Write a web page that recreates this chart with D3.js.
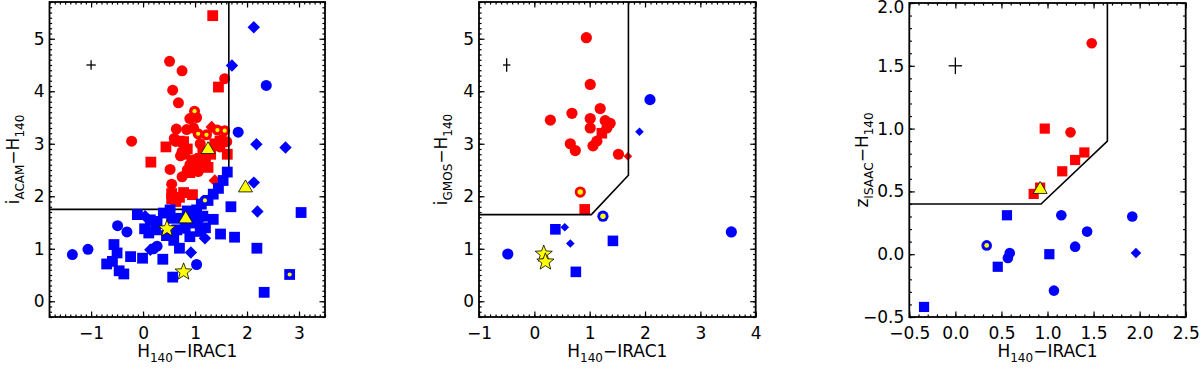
<!DOCTYPE html>
<html>
<head>
<meta charset="utf-8">
<title>Colour selection</title>
<style type="text/css">
body { margin:0; background:#fff; }
svg text { font-family: "DejaVu Sans", "Liberation Sans", Arial, sans-serif; fill:#000; }
.frame { fill:none; stroke:#000; stroke-width:1.8px; }
.tick line { stroke:#000; stroke-width:1.2px; }
.cut { fill:none; stroke:#000; stroke-width:1.6px; }
.err { stroke:#000; stroke-width:1.3px; }
</style>
</head>
<body>
<div id="chart"></div>
<script src="https://cdn.jsdelivr.net/npm/d3@7"></script>
<script>

// shape codes: o circle, o* circle with yellow dot, s square, s* square with dot, d diamond, ^ triangle, * star

// ---- panel 1: iACAM - H140
var acamRed = [
	[0.51,4.57,"o"],[0.75,4.39,"o"],[0.57,4.02,"o"],[0.68,3.78,"o"],[1.57,4.24,"o"],[-0.22,3.05,"o"],
	[0.90,3.48,"o"],[1.03,3.50,"o"],[0.97,3.30,"o"],[0.64,3.28,"o"],[0.84,3.27,"o"],[0.62,3.05,"o"],
	[0.75,2.85,"o"],[0.72,2.77,"o"],[1.51,3.07,"o"],[1.61,3.04,"o"],[1.48,2.94,"o"],[1.10,3.00,"o"],
	[0.90,2.60,"o"],[1.00,2.70,"o"],[0.52,2.51,"o"],[0.55,2.23,"o"],[0.75,2.37,"o"],[1.06,2.47,"o"],
	[0.85,2.50,"o"],[1.20,2.75,"o"],[1.35,2.95,"o"],[0.60,3.10,"o"],
	[1.34,5.44,"s"],[1.45,4.08,"s"],[0.15,2.65,"s"],[0.44,2.94,"s"],[0.78,3.04,"s"],[1.62,2.80,"s"],
	[0.70,3.05,"s"],[0.80,2.80,"s"],[0.95,2.68,"s"],[1.10,2.72,"s"],[1.20,2.63,"s"],[1.30,2.80,"s"],
	[1.38,3.00,"s"],[1.25,2.55,"s"],[0.90,2.45,"s"],[1.00,2.55,"s"],[0.55,1.95,"s"],[0.55,2.05,"s"],
	[0.70,1.98,"s"],[0.78,2.07,"s"],[0.63,1.90,"s"],[0.95,2.03,"s"],[1.15,2.85,"s"],[1.48,3.05,"s"],
	[0.85,2.90,"s"],
	[1.38,2.30,"d"],[1.32,3.32,"d"],
	[0.99,3.62,"o*"],[1.06,3.19,"o*"],[1.22,3.17,"o*"],[1.43,3.26,"o*"],[1.57,3.25,"o*"]
];
var acamBlue = [
	[3.04,1.69,"s"],[2.19,1.01,"s"],[2.33,0.17,"s"],[1.76,1.22,"s"],[1.49,1.28,"s"],[1.35,1.56,"s"],
	[1.69,1.80,"s"],[1.62,2.46,"s"],[1.54,2.30,"s"],[1.45,2.15,"s"],[1.35,2.04,"s"],[1.25,1.92,"s"],
	[1.03,1.74,"s"],[1.00,1.49,"s"],[1.10,1.33,"s"],[0.90,1.23,"s"],[0.70,1.01,"s"],[0.59,1.16,"s"],
	[0.57,0.46,"s"],[0.38,0.80,"s"],[-0.01,0.82,"s"],[-0.24,0.85,"s"],[-0.37,0.52,"s"],[-0.46,0.58,"s"],
	[-0.70,0.71,"s"],[-0.56,1.08,"s"],[-0.50,0.92,"s"],[-0.59,0.76,"s"],[-0.11,1.65,"s"],[0.03,1.38,"s"],
	[0.11,1.30,"s"],[0.24,1.36,"s"],[0.27,1.52,"s"],[0.14,1.55,"s"],[0.39,1.68,"s"],[0.52,1.74,"s"],
	[0.55,1.58,"s"],[0.65,1.36,"s"],[0.81,1.39,"s"],[0.97,1.65,"s"],[0.45,1.25,"s"],[1.20,1.40,"s"],
	[1.15,1.62,"s"],[0.85,1.72,"s"],[0.75,1.58,"s"],[1.12,1.85,"s"],
	[2.37,4.11,"o"],[1.83,3.22,"o"],[-1.36,0.89,"o"],[-1.06,0.99,"o"],[-0.49,1.44,"o"],[-0.31,1.32,"o"],
	[0.27,1.05,"o"],[0.20,1.00,"o"],[1.03,0.70,"o"],
	[2.13,5.22,"d"],[1.71,4.49,"d"],[2.18,2.99,"d"],[2.74,2.93,"d"],[2.13,2.26,"d"],[2.20,1.71,"d"],
	[0.92,0.93,"d"],[1.19,1.20,"d"],[0.04,1.62,"d"],[1.09,1.56,"d"],[0.14,0.98,"d"],
	[1.19,1.92,"o*"],[2.82,0.51,"s*"]
];
var acamYellow = [[1.25,2.90,"^"],[1.97,2.17,"^"],[0.82,1.58,"^"],[0.46,1.38,"*"],[0.78,0.56,"*"]];
var acamCut = [[-1.8,1.75],[1.05,1.75],[1.65,2.44],[1.65,5.7]];
var acamErr = [-1, 4.5, 0.09, 0.09];

// ---- panel 2: iGMOS - H140
var gmosRed = [
	[0.94,5.02,"o"],[1.01,4.13,"o"],[1.19,3.67,"o"],[0.29,3.45,"o"],[0.68,3.58,"o"],[1.01,3.48,"o"],
	[1.01,3.30,"o"],[1.28,3.44,"o"],[1.37,3.39,"o"],[1.31,3.30,"o"],[1.13,3.05,"o"],[1.06,2.96,"o"],
	[0.65,3.00,"o"],[0.74,2.87,"o"],[1.52,2.80,"o"],
	[1.22,3.20,"s"],[0.91,1.75,"s"],
	[1.69,2.76,"d"],
	[0.83,2.08,"o*"]
];
var gmosBlue = [
	[-0.48,0.90,"o"],[2.09,3.84,"o"],[3.56,1.32,"o"],
	[0.38,1.37,"s"],[1.42,1.15,"s"],[0.75,0.56,"s"],
	[0.55,1.41,"d"],[0.65,1.10,"d"],[1.90,3.23,"d"],
	[1.24,1.62,"o*"]
];
var gmosYellow = [[0.17,0.90,"*"],[0.20,0.75,"*"]];
var gmosCut = [[-1,1.65],[1.03,1.65],[1.70,2.40],[1.70,5.7]];
var gmosErr = [-0.5, 4.5, 0.067, 0.127];

// ---- panel 3: zISAAC - H140
var isaacRed = [
	[1.48,1.68,"o"],[1.25,0.97,"o"],
	[0.97,1.00,"s"],[1.40,0.81,"s"],[1.30,0.75,"s"],[1.16,0.66,"s"],[0.85,0.48,"s"],[0.92,0.53,"s"]
];
var isaacBlue = [
	[1.15,0.31,"o"],[1.92,0.30,"o"],[1.43,0.18,"o"],[1.30,0.06,"o"],[0.59,0.01,"o"],[0.57,-0.03,"o"],
	[1.07,-0.29,"o"],
	[0.56,0.31,"s"],[1.02,0.00,"s"],[0.46,-0.10,"s"],[-0.34,-0.42,"s"],
	[1.96,0.01,"d"],
	[0.34,0.07,"o*"]
];
var isaacYellow = [[0.92,0.52,"^"]];
var isaacCut = [[-0.5,0.40],[0.93,0.40],[1.65,0.90],[1.65,2.0]];
var isaacErr = [0, 1.5, 0.073, 0.066];

var xTicks12 = [-1,0,1,2,3], xTicks2 = [-1,0,1,2,3,4], yTicks12 = [0,1,2,3,4,5];
var xTicks3 = [-0.5,0,0.5,1,1.5,2,2.5], yTicks3 = [-0.5,0,0.5,1,1.5,2];

var panels = [
	{left:49.5, right:325, top:2, bottom:317, xDom:[-1.8,3.5], yDom:[-0.3,5.7], xTicks:xTicks12, yTicks:yTicks12,
	 fmt:d3.format("d"), ylab:["i","ACAM"], ylabX:19, red:acamRed, blue:acamBlue, yellow:acamYellow, cut:acamCut, err:acamErr,
	 r:{o:5.5, s:5.4, d:6.2, dot:2.1, star:9, tri:7}},
	{left:479, right:755.7, top:2, bottom:317, xDom:[-1,4], yDom:[-0.3,5.7], xTicks:xTicks2, yTicks:yTicks12,
	 fmt:d3.format("d"), ylab:["i","GMOS"], ylabX:447, red:gmosRed, blue:gmosBlue, yellow:gmosYellow, cut:gmosCut, err:gmosErr,
	 r:{o:5.6, s:5.3, d:4.3, dot:2.7, star:9, tri:7}},
	{left:909.3, right:1185.7, top:3, bottom:317, xDom:[-0.5,2.5], yDom:[-0.5,2.0], xTicks:xTicks3, yTicks:yTicks3,
	 fmt:d3.format(".1f"), ylab:["z","ISAAC"], ylabX:868, red:isaacRed, blue:isaacBlue, yellow:isaacYellow, cut:isaacCut, err:isaacErr,
	 r:{o:5.3, s:5.1, d:5.3, dot:2.4, star:9, tri:7}}
];

var svg = d3.select("#chart").append("svg")
	.attr("width",1200)
	.attr("height",374);

function markerPath(kind, r){
	var p = d3.path();
	if(kind == "o"){
		p.moveTo(r.o,0); p.arc(0,0,r.o,0,2*Math.PI);
	} else if(kind == "s"){
		p.rect(-r.s,-r.s,2*r.s,2*r.s);
	} else if(kind == "d"){
		p.moveTo(0,-r.d); p.lineTo(r.d,0); p.lineTo(0,r.d); p.lineTo(-r.d,0); p.closePath();
	} else if(kind == "^"){
		p.moveTo(0,-r.tri*1.05); p.lineTo(r.tri,r.tri*0.65); p.lineTo(-r.tri,r.tri*0.65); p.closePath();
	} else if(kind == "*"){
		for(var i=0;i<10;i++){
			var a = -Math.PI/2 + i*Math.PI/5;
			var rr = (i%2==0) ? r.star : r.star*0.42;
			if(i==0) p.moveTo(rr*Math.cos(a), rr*Math.sin(a));
			else p.lineTo(rr*Math.cos(a), rr*Math.sin(a));
		}
		p.closePath();
	}
	return p.toString();
}

function minorValues(dom, step){
	return d3.range(Math.ceil(dom[0]/step-1e-6), Math.floor(dom[1]/step+1e-6)+1).map(function(i){ return +(i*step).toFixed(3); });
}

function styleAxis(g){
	g.attr("font-family",null).attr("font-size",null);
	g.select(".domain").remove();
	g.selectAll("text").style("font-size","17px");
}

panels.forEach(function(p){
	var g = svg.append("g");
	var x = d3.scaleLinear().domain(p.xDom).range([p.left,p.right]);
	var y = d3.scaleLinear().domain(p.yDom).range([p.bottom,p.top]);

	// minor ticks on all four sides
	var xm = minorValues(p.xDom,0.1), ym = minorValues(p.yDom,0.1);
	g.append("g").attr("transform","translate(0,"+p.bottom+")")
		.call(d3.axisBottom(x).tickValues(xm).tickSize(-2.6).tickFormat("")).call(styleAxis);
	g.append("g").attr("transform","translate(0,"+p.top+")")
		.call(d3.axisTop(x).tickValues(xm).tickSize(-2.6).tickFormat("")).call(styleAxis);
	g.append("g").attr("transform","translate("+p.left+",0)")
		.call(d3.axisLeft(y).tickValues(ym).tickSize(-2.6).tickFormat("")).call(styleAxis);
	g.append("g").attr("transform","translate("+p.right+",0)")
		.call(d3.axisRight(y).tickValues(ym).tickSize(-2.6).tickFormat("")).call(styleAxis);

	// major ticks + labels
	g.append("g").attr("transform","translate(0,"+p.bottom+")")
		.call(d3.axisBottom(x).tickValues(p.xTicks).tickSize(-5.5).tickPadding(10).tickFormat(p.fmt)).call(styleAxis);
	g.append("g").attr("transform","translate(0,"+p.top+")")
		.call(d3.axisTop(x).tickValues(p.xTicks).tickSize(-5.5).tickFormat("")).call(styleAxis);
	var yax = g.append("g").attr("transform","translate("+p.left+",0)")
		.call(d3.axisLeft(y).tickValues(p.yTicks).tickSize(-5.5).tickPadding(5).tickFormat(p.fmt)).call(styleAxis);
	// keep a label that sits on the top edge inside the picture
	yax.selectAll(".tick text").attr("y",function(d){ return y(d) < 7 ? 7 - y(d) : 0; });
	g.append("g").attr("transform","translate("+p.right+",0)")
		.call(d3.axisRight(y).tickValues(p.yTicks).tickSize(-5.5).tickFormat("")).call(styleAxis);

	g.append("rect").attr("class","frame")
		.attr("x",p.left).attr("y",p.top)
		.attr("width",p.right-p.left).attr("height",p.bottom-p.top);

	// error cross
	var e = p.err;
	g.append("line").attr("class","err")
		.attr("x1",x(e[0]-e[2])).attr("x2",x(e[0]+e[2])).attr("y1",y(e[1])).attr("y2",y(e[1]));
	g.append("line").attr("class","err")
		.attr("x1",x(e[0])).attr("x2",x(e[0])).attr("y1",y(e[1]-e[3])).attr("y2",y(e[1]+e[3]));

	function plot(layer, data, colour){
		layer.selectAll(null)
			.data(data)
			.enter().append("path")
			.attr("transform",function(d){ return "translate("+x(d[0])+","+y(d[1])+")"; })
			.attr("d",function(d){ return markerPath(d[2].charAt(0), p.r); })
			.attr("fill",colour)
			.attr("stroke",function(d){ return (d[2]=="^"||d[2]=="*") ? "#000" : "none"; })
			.attr("stroke-width",0.8);
		layer.selectAll(null)
			.data(data.filter(function(d){ return d[2].charAt(1)=="*"; }))
			.enter().append("circle")
			.attr("cx",function(d){ return x(d[0]); })
			.attr("cy",function(d){ return y(d[1]); })
			.attr("r",p.r.dot)
			.attr("fill","#ffff00");
	}

	// red, then the selection cut, then blue and yellow on top
	plot(g.append("g"), p.red, "#ff0000");
	g.append("path").attr("class","cut")
		.attr("d",d3.line().x(function(d){ return x(d[0]); }).y(function(d){ return y(d[1]); })(p.cut));
	var top = g.append("g");
	plot(top, p.blue, "#0000ff");
	plot(top, p.yellow, "#ffff00");

	// axis titles
	var xl = g.append("text").attr("text-anchor","middle")
		.attr("x",(p.left+p.right)/2).attr("y",357).style("font-size","17px");
	xl.append("tspan").text("H");
	xl.append("tspan").attr("dy",5).style("font-size","12px").text("140");
	xl.append("tspan").attr("dy",-5).text("\u2212IRAC1");

	var yl = g.append("text").attr("text-anchor","middle")
		.attr("transform","translate("+p.ylabX+","+((p.top+p.bottom)/2)+") rotate(-90)")
		.style("font-size","17px");
	yl.append("tspan").text(p.ylab[0]);
	yl.append("tspan").attr("dy",5).style("font-size","12px").text(p.ylab[1]);
	yl.append("tspan").attr("dy",-5).text("\u2212H");
	yl.append("tspan").attr("dy",5).style("font-size","12px").text("140");
});

</script>
</body>
</html>
